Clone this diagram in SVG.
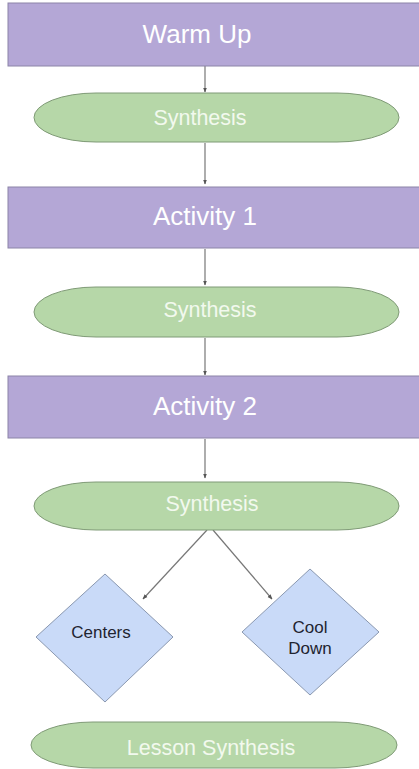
<svg xmlns="http://www.w3.org/2000/svg" width="419" height="769" viewBox="0 0 419 769">
<defs>
<style>
.proc{fill:#b4a7d6;stroke:#8c84a8;stroke-width:1}
.syn{fill:#b6d7a8;stroke:#7f9a76;stroke-width:1}
.dec{fill:#c9daf8;stroke:#8a98b0;stroke-width:1}
.ht{font-family:"Liberation Sans",Arial,sans-serif;font-size:26px;fill:#ffffff;text-anchor:middle}
.st{font-family:"Liberation Sans",Arial,sans-serif;font-size:21.5px;fill:#f2f9ee;text-anchor:middle}
.dt{font-family:"Liberation Sans",Arial,sans-serif;font-size:17px;fill:#1f2430;text-anchor:middle}
.conn line{stroke:#777777;stroke-width:1.2;fill:none}
</style>
<marker id="ah" viewBox="0 0 10 10" refX="9" refY="5" markerWidth="5" markerHeight="5" orient="auto" markerUnits="userSpaceOnUse">
<path d="M0,1 L10,5 L0,9 Z" fill="#555555"/>
</marker>
</defs>
<rect width="419" height="769" fill="#ffffff"/>
<g class="conn">
<line x1="205" y1="66" x2="205" y2="92" marker-end="url(#ah)"/>
<line x1="205" y1="143" x2="205" y2="184" marker-end="url(#ah)"/>
<line x1="205" y1="249" x2="205" y2="285" marker-end="url(#ah)"/>
<line x1="205" y1="338" x2="205" y2="375" marker-end="url(#ah)"/>
<line x1="205" y1="439" x2="205" y2="478" marker-end="url(#ah)"/>
<line x1="207" y1="530" x2="143" y2="599" marker-end="url(#ah)"/>
<line x1="213" y1="530" x2="272" y2="599" marker-end="url(#ah)"/>
</g>
<g id="warmup"><rect class="proc" x="8" y="3" width="420" height="63"/><text class="ht" x="197" y="43">Warm Up</text></g>
<g id="synthesis1"><rect class="syn" x="34" y="93" width="365" height="49" rx="62" ry="24.5"/><text class="st" x="200" y="125">Synthesis</text></g>
<g id="activity1"><rect class="proc" x="8" y="187" width="420" height="61"/><text class="ht" x="205" y="225">Activity 1</text></g>
<g id="synthesis2"><rect class="syn" x="34" y="287" width="365" height="50" rx="62" ry="25"/><text class="st" x="210" y="317">Synthesis</text></g>
<g id="activity2"><rect class="proc" x="8" y="376" width="420" height="62"/><text class="ht" x="205" y="415">Activity 2</text></g>
<g id="synthesis3"><rect class="syn" x="34" y="482" width="365" height="48" rx="62" ry="24"/><text class="st" x="212" y="511">Synthesis</text></g>
<g id="centers"><polygon class="dec" points="105,574 173,637 105,702 36,637"/><text class="dt" x="101" y="638">Centers</text></g>
<g id="cooldown"><polygon class="dec" points="310,569 379,632 310,695 242,632"/><text class="dt" x="310" y="633">Cool</text><text class="dt" x="310" y="654">Down</text></g>
<g id="lessonsynthesis"><rect class="syn" x="31" y="722" width="366" height="46" rx="62" ry="23"/><text class="st" x="211" y="755">Lesson Synthesis</text></g>
</svg>
